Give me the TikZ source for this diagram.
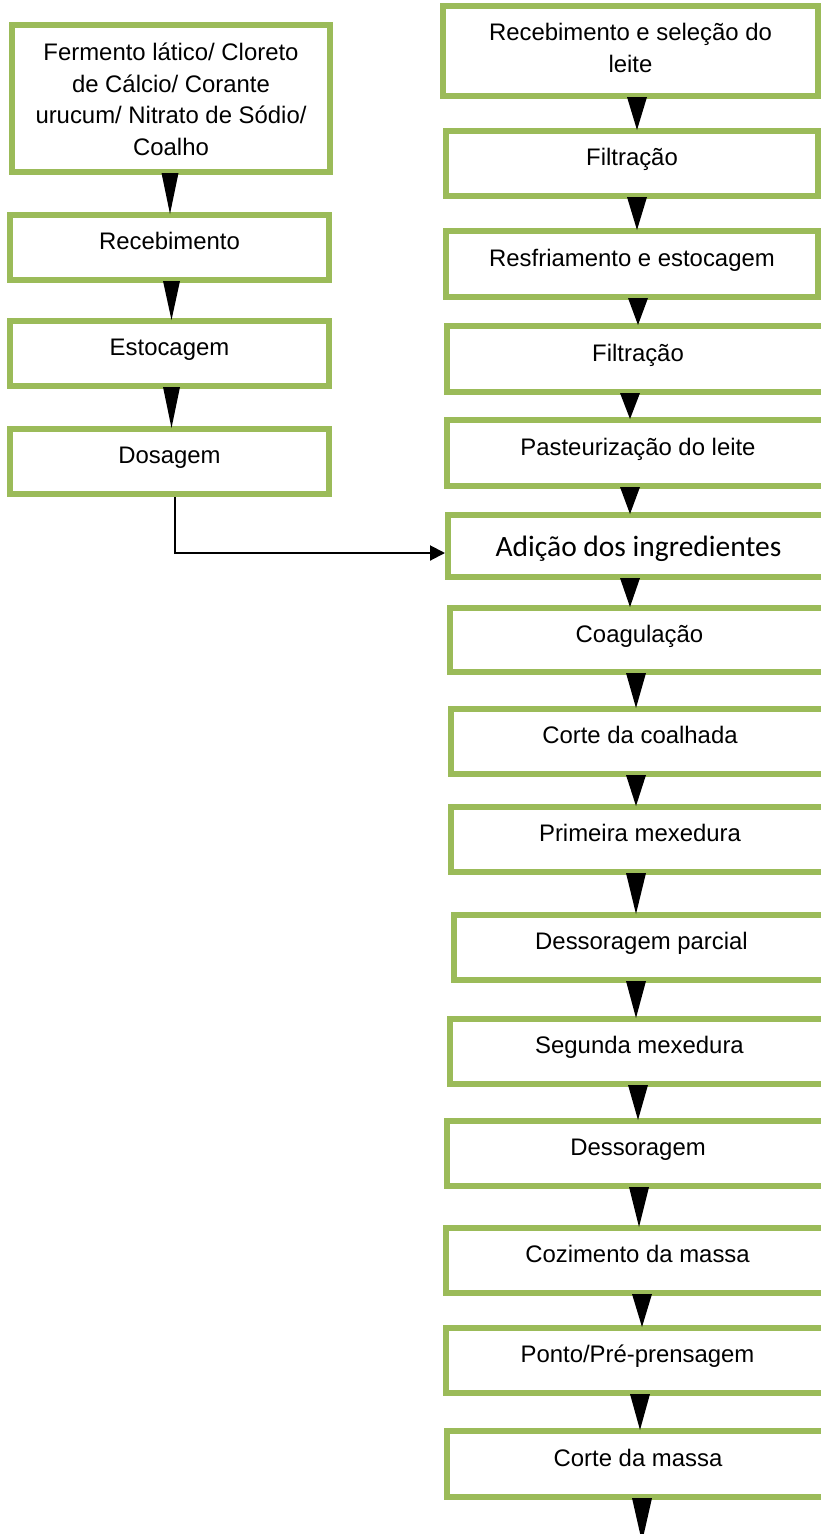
\documentclass[tikz,border=0pt]{standalone}
\usepackage{fontspec}
\setmainfont{Liberation Sans}
\newfontfamily\calibfont{Carlito}
\usetikzlibrary{arrows.meta,calc}
\definecolor{boxgreen}{HTML}{9BBB59}
\newcommand\tri[4]{\fill[black] let \p1=(#1.south), \p2=(#2.north) in ({#3pt-#4pt},{\y1+2pt}) -- ({#3pt+#4pt},{\y1+2pt}) -- (#3pt,{\y2-2pt}) -- cycle;}
\begin{document}
\begin{tikzpicture}[x=1pt,y=-1pt,
  box/.style={draw=boxgreen, line width=6pt, fill=white, inner sep=0pt, align=center,
    font=\fontsize{23.9}{31.5}\selectfont},
  one/.style={text height=17pt, text depth=13pt},
  link/.style={line width=2pt, -{Triangle[length=15pt,width=15pt]}}
]
\useasboundingbox (0,0) rectangle (821,1534);
\fill[white] (0,0) rectangle (821,1534);
\clip (0,0) rectangle (821,1534);

% left column
\node[box, minimum width=318, minimum height=147, text height=113pt, text depth=0pt] (L1) at (171,98.5)
  {Fermento lático/ Cloreto\\de Cálcio/ Corante\\urucum/ Nitrato de Sódio/\\Coalho};
\node[box, one, minimum width=319, minimum height=65] (L2) at (169.5,247.5) {Recebimento};
\node[box, one, minimum width=319, minimum height=65] (L3) at (169.5,353.5) {Estocagem};
\node[box, one, minimum width=319, minimum height=65] (L4) at (169.5,461.5) {Dosagem};

% right column
\node[box, minimum width=375, minimum height=90, text height=42pt, text depth=0pt] (R1) at (630.5,51)
  {Recebimento e seleção do\\leite};
\node[box, one, minimum width=372, minimum height=65] (R2) at (632,163.5) {Filtração};
\node[box, one, minimum width=372, minimum height=66] (R3) at (632,264) {Resfriamento e estocagem};
\node[box, one, minimum width=382, minimum height=66] (R4) at (638,359) {Filtração};
\node[box, one, minimum width=382, minimum height=66] (R5) at (638,453) {Pasteurização do leite};
\node[box, minimum width=381, minimum height=62, text height=20pt, text depth=0pt,
  font=\calibfont\fontsize{29.5}{35}\selectfont] (R6) at (638.5,546) {Adição dos ingredientes};
\node[box, one, minimum width=379, minimum height=64] (R7) at (639.5,640) {Coagulação};
\node[box, one, minimum width=378, minimum height=65] (R8) at (640,741.5) {Corte da coalhada};
\node[box, one, minimum width=378, minimum height=65] (R9) at (640,839.5) {Primeira mexedura};
\node[box, one, minimum width=375, minimum height=65] (R10) at (641.5,947.5) {Dessoragem parcial};
\node[box, one, minimum width=379, minimum height=65] (R11) at (639.5,1051.5) {Segunda mexedura};
\node[box, one, minimum width=382, minimum height=65] (R12) at (638,1153.5) {Dessoragem};
\node[box, one, minimum width=383, minimum height=65] (R13) at (637.5,1260.5) {Cozimento da massa};
\node[box, one, minimum width=383, minimum height=65] (R14) at (637.5,1360.5) {Ponto/Pré-prensagem};
\node[box, one, minimum width=382, minimum height=66] (R15) at (638,1464) {Corte da massa};
\coordinate (fin) at (642,1542);

% arrows
\tri{L1}{L2}{170}{8.5}
\tri{L2}{L3}{171.5}{8.5}
\tri{L3}{L4}{171.5}{8.5}
\tri{R1}{R2}{637}{10}
\tri{R2}{R3}{637}{10}
\tri{R3}{R4}{638}{10}
\tri{R4}{R5}{630}{10}
\tri{R5}{R6}{630}{10}
\tri{R6}{R7}{630}{10}
\tri{R7}{R8}{636}{10}
\tri{R8}{R9}{636}{10}
\tri{R9}{R10}{636}{10}
\tri{R10}{R11}{636}{10}
\tri{R11}{R12}{638}{10}
\tri{R12}{R13}{639}{10}
\tri{R13}{R14}{642}{10}
\tri{R14}{R15}{640}{10}
\fill[black] let \p1=(R15.south), \p2=(fin) in (632pt,{\y1+2pt}) -- (652pt,{\y1+2pt}) -- (\p2) -- cycle;

\draw[link] ([xshift=5.5pt]L4.south) |- ([yshift=-7pt]R6.west);
\end{tikzpicture}
\end{document}
